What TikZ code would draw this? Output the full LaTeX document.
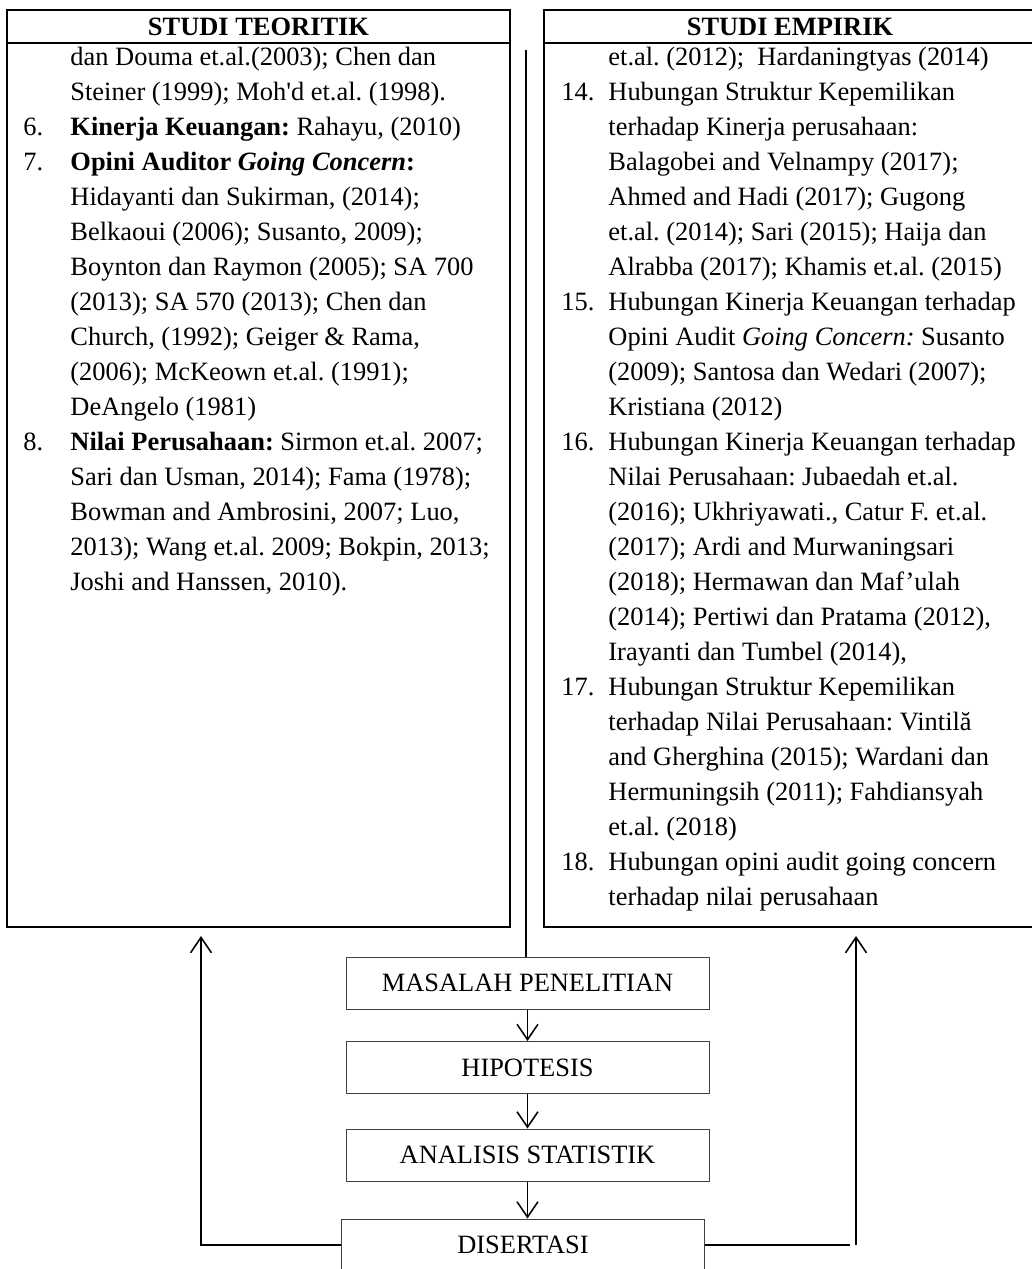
\documentclass[tikz,border=0pt]{standalone}
\usepackage{fontspec}
\setmainfont{Liberation Serif}
\usetikzlibrary{arrows.meta}
\frenchspacing

\begin{document}
\begin{tikzpicture}[x=0.454pt,y=-0.454pt,
  garis/.style={line width=0.7pt},
  panah/.style={garis,-{Straight Barb[length=7pt,width=9.5pt]}},
  bingkai/.style={line width=0.9pt},
  kotak/.style={draw=black!75,line width=0.45pt,minimum width=164.8pt,minimum height=23.6pt,inner sep=0pt,font=\fontsize{12}{14}\selectfont},
  judul/.style={inner sep=0pt,font=\fontsize{12}{14}\selectfont\bfseries},
  baris/.style={anchor=base west,inner sep=0pt,font=\fontsize{12}{14}\selectfont\frenchspacing}]
\useasboundingbox (0,0) rectangle (1032,1269);

	% kotak studi teoritik dan studi empirik
	\draw[bingkai] (7,10) rectangle (510,927);
	\draw[bingkai] (7,43) -- (510,43);
	\draw[bingkai] (544,10) rectangle (1036,927);
	\draw[bingkai] (544,43) -- (1036,43);
	\node[judul] (jteori) at (258.5,27) {STUDI TEORITIK};
	\node[judul] (jempiris) at (790,27) {STUDI EMPIRIK};

	\foreach \no/\isi [count=\i from 0] in {
		/{dan Douma et.al.(2003); Chen dan},
		/{Steiner (1999); Moh\textquotesingle d et.al. (1998).},
		6./{\textbf{Kinerja Keuangan:} Rahayu, (2010)},
		7./{\textbf{Opini Auditor \textit{Going Concern}:}},
		/{Hidayanti dan Sukirman, (2014);},
		/{Belkaoui (2006); Susanto, 2009);},
		/{Boynton dan Raymon (2005); SA 700},
		/{(2013); SA 570 (2013); Chen dan},
		/{Church, (1992); Geiger \& Rama,},
		/{(2006); McKeown et.al. (1991);},
		/{DeAngelo (1981)},
		8./{\textbf{Nilai Perusahaan:} Sirmon et.al. 2007;},
		/{Sari dan Usman, 2014); Fama (1978);},
		/{Bowman and Ambrosini, 2007; Luo,},
		/{2013); Wang et.al. 2009; Bokpin, 2013;},
		/{Joshi and Hanssen, 2010).}}{
		\node[baris] (nteori\i) at (23,65+35*\i) {\no};
		\node[baris] (teori\i) at (70,65+35*\i) {\isi};
	}

	\foreach \no/\isi [count=\i from 0] in {
		/{et.al. (2012); \ Hardaningtyas (2014)},
		14./{Hubungan Struktur Kepemilikan},
		/{terhadap Kinerja perusahaan:},
		/{Balagobei and Velnampy (2017);},
		/{Ahmed and Hadi (2017); Gugong},
		/{et.al. (2014); Sari (2015); Haija dan},
		/{Alrabba (2017); Khamis et.al. (2015)},
		15./{Hubungan Kinerja Keuangan terhadap},
		/{Opini Audit \textit{Going Concern:} Susanto},
		/{(2009); Santosa dan Wedari (2007);},
		/{Kristiana (2012)},
		16./{Hubungan Kinerja Keuangan terhadap},
		/{Nilai Perusahaan: Jubaedah et.al.},
		/{(2016); Ukhriyawati., Catur F. et.al.},
		/{(2017); Ardi and Murwaningsari},
		/{(2018); Hermawan dan Maf’ulah},
		/{(2014); Pertiwi dan Pratama (2012),},
		/{Irayanti dan Tumbel (2014),},
		17./{Hubungan Struktur Kepemilikan},
		/{terhadap Nilai Perusahaan: Vintilă},
		/{and Gherghina (2015); Wardani dan},
		/{Hermuningsih (2011); Fahdiansyah},
		/{et.al. (2018)},
		18./{Hubungan opini audit going concern},
		/{terhadap nilai perusahaan}}{
		\node[baris] (nempiris\i) at (561,65+35*\i) {\no};
		\node[baris] (empiris\i) at (608,65+35*\i) {\isi};
	}

	% alur penelitian
	\node[kotak] (masalah) at (527.5,983) {MASALAH PENELITIAN};
	\node[kotak] (hipotesis) at (527.5,1067.5) {HIPOTESIS};
	\node[kotak] (analisis) at (527.5,1155) {ANALISIS STATISTIK};
	\node[kotak] (disertasi) at (523,1245) {DISERTASI};

	\coordinate (atas) at (526,50);
	\coordinate (kiripanah) at (201,936);
	\coordinate (kananujung) at (850,1245);
	\coordinate (kananbawah) at (856,1245);
	\coordinate (kananpanah) at (856,936);

	\draw[garis] (atas) -- (atas |- masalah.north);
	\draw[panah] (masalah) -- (hipotesis);
	\draw[panah] (hipotesis) -- (analisis);
	\draw[panah] (analisis.south) -- (analisis.south |- disertasi.north);
	\draw[panah] (disertasi.west) -| (kiripanah);
	\draw[garis] (disertasi.east) -- (kananujung);
	\draw[panah] (kananbawah) -- (kananpanah);
\end{tikzpicture}
\end{document}
